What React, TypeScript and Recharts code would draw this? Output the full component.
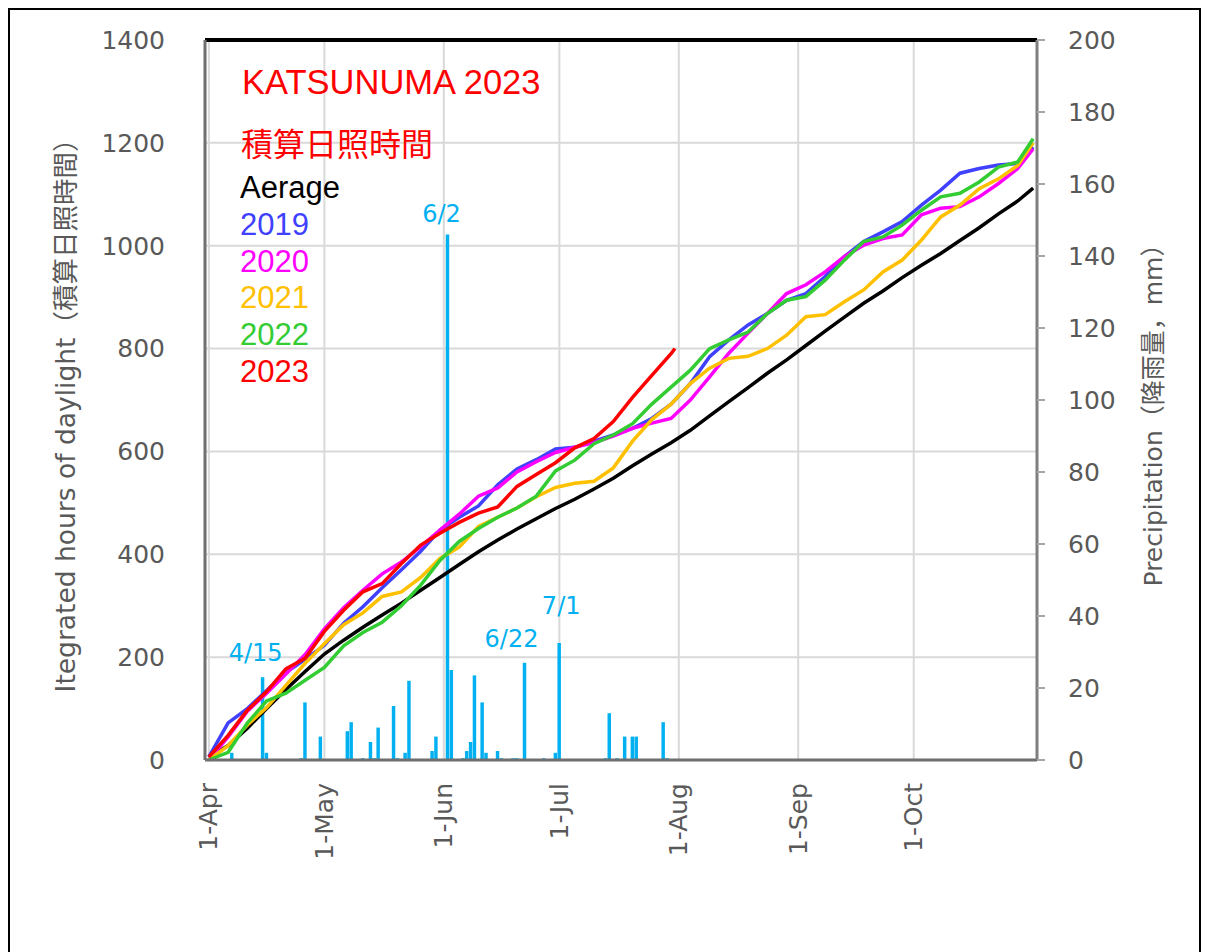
import {
  ComposedChart,
  Line,
  Bar,
  XAxis,
  YAxis,
  CartesianGrid,
  ReferenceLine,
  LabelList,
} from "recharts";

const monthTicks = [0, 30, 61, 91, 122, 153, 183];
const monthLabels = ["1-Apr", "1-May", "1-Jun", "1-Jul", "1-Aug", "1-Sep", "1-Oct"];
const hourTicks = [0, 200, 400, 600, 800, 1000, 1200, 1400];
const rainTicks = [0, 20, 40, 60, 80, 100, 120, 140, 160, 180, 200];

// days counted from 1-Apr
const lineDays = [
  0, 5, 10, 15, 20, 25, 30, 35, 40, 45, 50, 55, 60, 65, 70, 75, 80, 85, 90, 95,
  100, 105, 110, 115, 120, 125, 130, 135, 140, 145, 150, 155, 160, 165, 170,
  175, 180, 185, 190, 195, 200, 205, 210, 214,
];
const avgHours = [
  5, 28, 62, 100, 137, 172, 206, 233, 258, 282, 305, 330, 355, 380, 405, 428,
  449, 469, 489, 507, 527, 548, 572, 595, 617, 641, 669, 697, 724, 752, 778,
  806, 834, 861, 888, 912, 938, 962, 985, 1010, 1035, 1062, 1087, 1112,
];
const hours2019 = [
  6, 72, 100, 135, 170, 196, 223, 266, 298, 335, 370, 406, 447, 472, 494, 535,
  566, 584, 605, 608, 620, 632, 645, 664, 692, 732, 784, 817, 846, 868, 894,
  907, 940, 979, 1008, 1027, 1047, 1079, 1108, 1141, 1150, 1157, 1160, 1192,
];
const hours2020 = [
  0, 45, 95, 130, 167, 205, 255, 296, 330, 362, 385, 415, 447, 478, 513, 529,
  560, 580, 598, 608, 617, 630, 645, 655, 664, 700, 745, 791, 830, 868, 907,
  924, 949, 979, 1001, 1014, 1021, 1060, 1073, 1076, 1095, 1121, 1150, 1188,
];
const hours2021 = [
  0, 28, 68, 102, 145, 188, 226, 263, 286, 318, 327, 355, 392, 414, 454, 472,
  490, 512, 530, 538, 542, 568, 620, 662, 692, 732, 762, 781, 785, 800, 826,
  862, 866, 891, 914, 949, 972, 1011, 1056, 1079, 1111, 1130, 1156, 1200,
];
const hours2022 = [
  0, 15, 72, 115, 130, 155, 180, 222, 248, 268, 300, 340, 388, 425, 450, 472,
  490, 513, 562, 583, 615, 632, 654, 692, 725, 758, 800, 817, 832, 868, 894,
  901, 933, 972, 1008, 1017, 1040, 1069, 1095, 1102, 1124, 1153, 1163, 1208,
];
const days2023 = [
  0, 5, 10, 15, 20, 25, 30, 35, 40, 45, 50, 55, 60, 65, 70, 75, 80, 85, 90, 95,
  100, 105, 110, 115, 120, 121,
];
const hours2023 = [
  6, 48, 97, 133, 177, 198, 250, 291, 327, 343, 382, 418, 441, 462, 480, 492,
  532, 555, 578, 607, 625, 658, 705, 748, 790, 800,
];

const rainDays = [
  6, 14, 15, 24, 25, 29, 36, 37, 40, 42, 43, 44, 48, 49, 51, 52, 58, 59, 62, 63,
  66, 67, 68, 69, 71, 72, 75, 76, 79, 80, 82, 87, 90, 91, 103, 104, 106, 108,
  110, 111, 118, 119,
];
const rainMm = [
  2, 23, 2, 0.5, 16, 6.5, 8, 10.5, 0.5, 5, 0.5, 9, 15, 0.5, 2, 22, 2.5, 6.5,
  146, 25, 0.5, 2.5, 5, 23.5, 16, 2, 2.5, 0.5, 0.5, 0.5, 27, 0.5, 2, 32.5, 0.5,
  13, 0.5, 6.5, 6.5, 6.5, 10.5, 0.5,
];
const noteDays = [14, 62, 82, 91];
const noteTexts = ["4/15", "6/2", "6/22", "7/1"];
// label placement relative to the bar top
const noteOffsets: Record<string, [number, number]> = {
  "4/15": [-7, -24],
  "6/2": [-6, -20],
  "6/22": [-13, -24],
  "7/1": [2, -37],
};

const series = [
  { key: "avg", name: "Aerage", color: "#000000" },
  { key: "y2019", name: "2019", color: "#4040ff" },
  { key: "y2020", name: "2020", color: "#ff00ff" },
  { key: "y2021", name: "2021", color: "#ffc000" },
  { key: "y2022", name: "2022", color: "#33cc33" },
  { key: "y2023", name: "2023", color: "#ff0000" },
];

const rows: any[] = [];
for (let d = 0; d <= 214; d++) rows.push({ day: d });
lineDays.forEach((d, i) => {
  rows[d].avg = avgHours[i];
  rows[d].y2019 = hours2019[i];
  rows[d].y2020 = hours2020[i];
  rows[d].y2021 = hours2021[i];
  rows[d].y2022 = hours2022[i];
});
days2023.forEach((d, i) => (rows[d].y2023 = hours2023[i]));
rainDays.forEach((d, i) => (rows[d].rain = rainMm[i]));
noteDays.forEach((d, i) => (rows[d].note = noteTexts[i]));

const AXIS_GRAY = "#595959";
const TICK_FONT = "DejaVu Sans, sans-serif";
const RAIN = "#00b0f0";

function MonthTick({ x, y, payload }: any) {
  const label = monthLabels[monthTicks.indexOf(payload.value)];
  return (
    <text
      x={x}
      y={y}
      transform={`rotate(-90 ${x} ${y})`}
      textAnchor="end"
      dominantBaseline="central"
      fill={AXIS_GRAY}
      fontSize={25}
      fontFamily={TICK_FONT}
    >
      {label}
    </text>
  );
}

function RainNote(props: any) {
  const { x, y, width, value } = props;
  if (!value || !noteOffsets[value]) return null;
  const [dx, dy] = noteOffsets[value];
  return (
    <text
      x={Number(x) + Number(width) / 2 + dx}
      y={Number(y) + dy}
      textAnchor="middle"
      dominantBaseline="central"
      fill={RAIN}
      fontSize={24}
      fontFamily={TICK_FONT}
    >
      {value}
    </text>
  );
}

export default function App() {
  return (
    <div style={{ position: "relative", width: 1193, height: 944 }}>
      <ComposedChart
        width={1190}
        height={900}
        data={rows}
        margin={{ top: 32, left: 97, right: 61, bottom: 48 }}
      >
        <CartesianGrid yAxisId="left" stroke="#d9d9d9" strokeWidth={2} />
        <XAxis
          type="number"
          dataKey="day"
          domain={[-1, 215]}
          ticks={monthTicks}
          allowDataOverflow
          height={100}
          tick={<MonthTick />}
          tickLine={false}
          tickSize={0}
          tickMargin={23}
          axisLine={{ stroke: "#6f6f6f", strokeWidth: 3 }}
        />
        <YAxis
          yAxisId="left"
          domain={[0, 1400]}
          ticks={hourTicks}
          width={100}
          tickLine={false}
          tickSize={0}
          tickMargin={40}
          tick={{ fill: AXIS_GRAY, fontSize: 25, fontFamily: TICK_FONT }}
          axisLine={{ stroke: "#6f6f6f", strokeWidth: 3 }}
        />
        <YAxis
          yAxisId="right"
          orientation="right"
          domain={[0, 200]}
          ticks={rainTicks}
          width={100}
          tickSize={8}
          tickMargin={23}
          tickLine={{ stroke: "#a6a6a6", strokeWidth: 2 }}
          tick={{ fill: AXIS_GRAY, fontSize: 25, fontFamily: TICK_FONT, textAnchor: "start" }}
          axisLine={{ stroke: "#7f7f7f", strokeWidth: 3 }}
        />
        <ReferenceLine yAxisId="left" y={1400} stroke="#000000" strokeWidth={4} />
        <Bar
          yAxisId="right"
          dataKey="rain"
          fill={RAIN}
          barSize={4}
          isAnimationActive={false}
        >
          <LabelList dataKey="note" content={<RainNote />} />
        </Bar>
        {series.map((s) => (
          <Line
            key={s.key}
            yAxisId="left"
            type="linear"
            dataKey={s.key}
            stroke={s.color}
            strokeWidth={3.5}
            dot={false}
            connectNulls
            isAnimationActive={false}
          />
        ))}
      </ComposedChart>
      <svg
        width={1209}
        height={952}
        style={{ position: "absolute", left: -8, top: -8, pointerEvents: "none" }}
      >
        <rect x={9} y={9} width={1191} height={980} fill="none" stroke="#000" strokeWidth={2} />
        <text x={242} y={94} fill="#ff0000" fontSize={34.5} fontFamily="Liberation Sans, Arial, sans-serif">
          KATSUNUMA 2023
        </text>
        <text x={241} y={156} fill="#ff0000" fontSize={32} fontFamily="Noto Sans CJK JP, sans-serif">
          積算日照時間
        </text>
        {series.map((s, i) => (
          <text
            key={s.key}
            x={240}
            y={198 + i * 36.8}
            fill={s.color}
            fontSize={31}
            fontFamily="Liberation Sans, Arial, sans-serif"
          >
            {s.name}
          </text>
        ))}
        <text
          x={65}
          y={409}
          transform="rotate(-90 65 409)"
          textAnchor="middle"
          dominantBaseline="central"
          fill={AXIS_GRAY}
          fontSize={26.5}
          fontFamily="DejaVu Sans, Noto Sans CJK JP, sans-serif"
        >
          Itegrated hours of daylight（積算日照時間）
        </text>
        <text
          x={1153}
          y={409}
          transform="rotate(-90 1153 409)"
          textAnchor="middle"
          dominantBaseline="central"
          fill={AXIS_GRAY}
          fontSize={25}
          fontFamily="DejaVu Sans, Noto Sans CJK JP, sans-serif"
        >
          Precipitation（降雨量，mm）
        </text>
      </svg>
    </div>
  );
}
